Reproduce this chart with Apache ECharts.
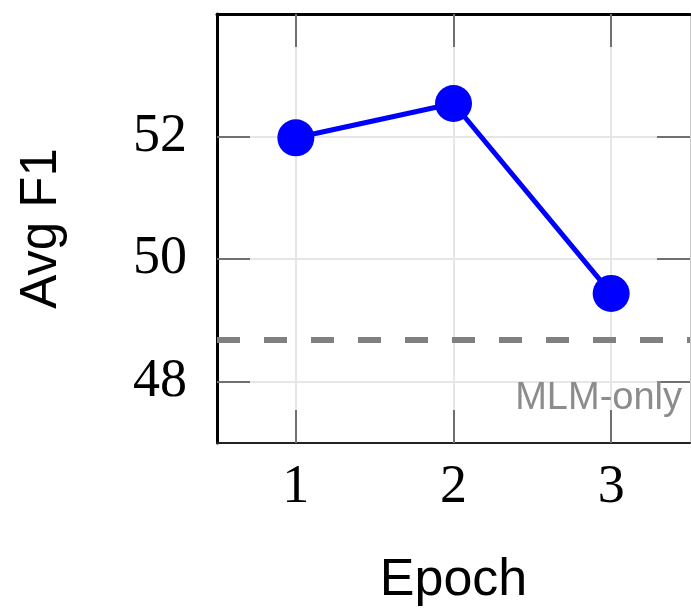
<!DOCTYPE html>
<html>
<head>
<meta charset="utf-8">
<script src="https://cdn.jsdelivr.net/npm/echarts@6/dist/echarts.min.js"></script>
<style>
  html, body { margin: 0; padding: 0; background: #fff; }
  #main { width: 691px; height: 612px; }
</style>
</head>
<body>
<div id="main"></div>
<script>
// data
var epochs = [1, 2, 3];
var avgF1 = [51.98, 52.54, 49.44];
var mlmOnly = 48.68;
var yTicks = [48, 50, 52];
var xTicks = [1, 2, 3];

var serif = "'Liberation Serif', 'Times New Roman', serif";
var sans = "'Liberation Sans', Arial, sans-serif";

var chart = echarts.init(document.getElementById('main'));

var tickStyle = { show: true, inside: true, length: 33, lineStyle: { color: '#707070', width: 2 } };

var option = {
	animation: false,
	backgroundColor: '#fff',
	grid: { left: 217, right: 1, top: 14, bottom: 168 },
	xAxis: [{
		type: 'value',
		min: 0.5,
		max: 3.5,
		interval: 0.5,
		position: 'bottom',
		name: 'Epoch',
		nameLocation: 'middle',
		nameGap: 112,
		nameTextStyle: { fontFamily: sans, fontSize: 52, color: '#000' },
		axisLine: { show: true, lineStyle: { color: '#222', width: 2 } },
		axisTick: Object.assign({ customValues: xTicks }, tickStyle),
		axisLabel: { customValues: xTicks, margin: 18, fontFamily: serif, fontSize: 54, color: '#000' },
		splitLine: { show: true, lineStyle: { color: '#e6e6e6', width: 2 } }
	}, {
		type: 'value',
		min: 0.5,
		max: 3.5,
		interval: 0.5,
		position: 'top',
		axisLine: { show: true, lineStyle: { color: '#000', width: 3 } },
		axisTick: Object.assign({ customValues: xTicks }, tickStyle),
		axisLabel: { show: false },
		splitLine: { show: false }
	}],
	yAxis: [{
		type: 'value',
		min: 47,
		max: 54,
		interval: 1,
		position: 'left',
		name: 'Avg F1',
		nameLocation: 'middle',
		nameGap: 150,
		nameTextStyle: { fontFamily: sans, fontSize: 51, color: '#000' },
		axisLine: { show: true, lineStyle: { color: '#000', width: 3 } },
		axisTick: Object.assign({ customValues: yTicks }, tickStyle),
		axisLabel: { customValues: yTicks, margin: 30, fontFamily: serif, fontSize: 54, color: '#000' },
		splitLine: { show: true, lineStyle: { color: '#e6e6e6', width: 2 } }
	}, {
		type: 'value',
		min: 47,
		max: 54,
		interval: 1,
		position: 'right',
		axisLine: { show: true, lineStyle: { color: '#c8c8c8', width: 1 } },
		axisTick: Object.assign({ customValues: yTicks }, tickStyle),
		axisLabel: { show: false },
		splitLine: { show: false }
	}],
	series: [{
		type: 'line',
		xAxisIndex: 0,
		yAxisIndex: 0,
		data: epochs.map(function (e, i) { return [e, avgF1[i]]; }),
		symbol: 'circle',
		symbolSize: 37,
		lineStyle: { color: '#0000ff', width: 5 },
		itemStyle: { color: '#0000ff' },
		z: 5,
		markLine: {
			silent: true,
			symbol: 'none',
			lineStyle: { color: '#808080', width: 6, type: [23, 24] },
			label: {
				show: true,
				position: 'insideEndBottom',
				formatter: 'MLM-only',
				fontFamily: sans,
				fontSize: 38,
				color: '#8c8c8c',
				padding: [5, 0, 0, 0],
				distance: [8, 34]
			},
			data: [{ yAxis: mlmOnly }]
		}
	}]
};

chart.setOption(option);
</script>
</body>
</html>
